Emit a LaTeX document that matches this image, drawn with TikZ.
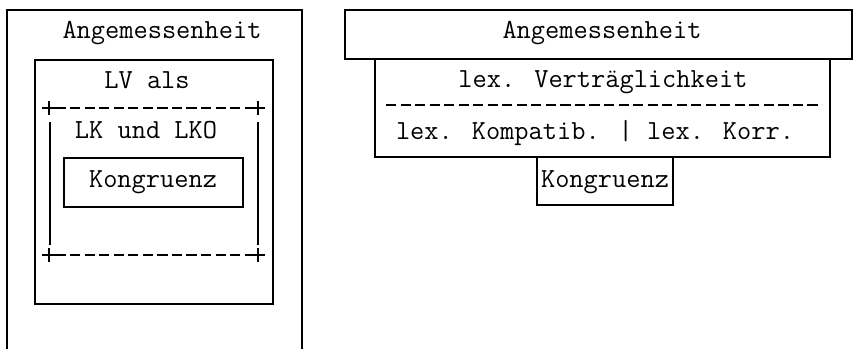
\documentclass[tikz,border=0pt]{standalone}
\usepackage{fontspec}
\begin{document}
\begin{tikzpicture}[x=0.75pt,y=-0.75pt,
  frame/.style={line width=0.9pt},
  boxnode/.style={draw, line width=0.9pt, inner sep=0pt, outer sep=0pt},
  lbl/.style={font=\ttfamily\fontsize{20.7}{24}\selectfont, anchor=base, inner sep=0pt},
  asciidash/.style={line width=1.4pt, dash pattern=on 7.6pt off 3.3pt},
  asciibar/.style={line width=0.8pt},
  plusmark/.style={line width=0.8pt}]
\useasboundingbox (0,0) rectangle (860,349);

% ---------- left figure: nested frames ----------
\coordinate (oBL) at (7,349);
\coordinate (oTL) at (7,10);
\coordinate (oTR) at (302,10);
\coordinate (oBR) at (302,349);
\draw[frame] (oBL) -- (oTL) -- (oTR) -- (oBR);
\node[lbl] (angL) at (162,39) {Angemessenheit};

\node[boxnode, minimum width=238*0.75pt, minimum height=244*0.75pt] (lvbox) at (154,182) {};
\node[lbl] (lvals) at (147,89) {LV als};

% ascii-style frame of dashes, bars and plus corners
\coordinate (pTL) at (49,108);
\coordinate (pTR) at (258,108);
\coordinate (pBL) at (49,255);
\coordinate (pBR) at (258,255);
\draw[asciidash] ([xshift=5]pTL) -- ([xshift=-5]pTR);
\draw[asciidash] ([xshift=5]pBL) -- ([xshift=-5]pBR);
\foreach \p in {pTL,pTR,pBL,pBR}{
  \draw[plusmark] ([xshift=-5]\p) -- ([xshift=5]\p);
  \draw[plusmark] ([yshift=-5]\p) -- ([yshift=5]\p);
}
\draw[asciibar] (50,122) -- (50,245);
\draw[asciibar] (258,122) -- (258,245);
\node[lbl] (lkund) at (146,139) {LK und LKO};

\node[boxnode, minimum width=179*0.75pt, minimum height=49*0.75pt] (kongL) at (153.5,182.5) {};
\node[lbl] at (153,188) {Kongruenz};

% ---------- right figure: stacked boxes ----------
\node[boxnode, minimum width=507*0.75pt, minimum height=49*0.75pt] (angR) at (598.5,34.5) {};
\node[lbl] at (602,39) {Angemessenheit};

\node[boxnode, minimum width=455*0.75pt, minimum height=98*0.75pt] (lexbox) at (602.5,108) {};
\node[lbl] at (603,88) {lex. Verträglichkeit};
\coordinate (dL) at (386,105);
\coordinate (dR) at (822,105);
\draw[asciidash] (dL) -- (dR);
\node[lbl] at (595,140) {lex. Kompatib. | lex. Korr.};

\node[boxnode, minimum width=136*0.75pt, minimum height=48*0.75pt] (kongR) at (605,181) {};
\node[lbl] at (605,188) {Kongruenz};
\end{tikzpicture}
\end{document}
